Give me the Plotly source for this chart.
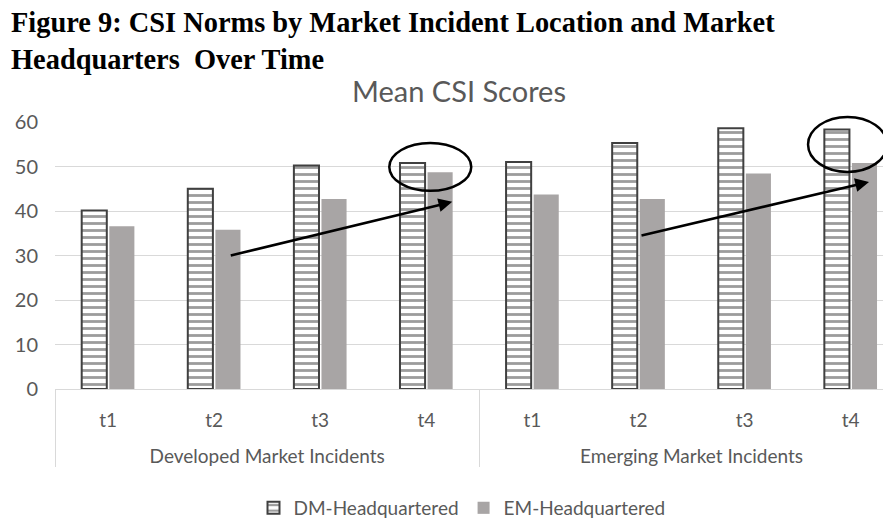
import plotly.graph_objects as go

group_names = ["Developed Market Incidents", "Emerging Market Incidents"]
periods = ["t1", "t2", "t3", "t4"] * 2
dm_hq = [40.1, 45.0, 50.2, 50.8, 51.0, 55.3, 58.6, 58.3]
em_hq = [36.6, 35.8, 42.7, 48.7, 43.7, 42.7, 48.4, 50.8]
series_names = ["DM-Headquartered", "EM-Headquartered"]

# group labels carry a leading line break to push them below the period labels
groups = ["<br>" + group_names[0]] * 4 + ["<br>" + group_names[1]] * 4

OFF = 8  # page body margin of the browser
W, H = 891 - OFF, 521 - OFF
L, R, T, B = 54.5 - OFF, 891 - OFF, 122 - OFF, 389.5 - OFF


def px_x(x):
    return (x - OFF - L) / (R - L)


def px_y(y):
    return (B - (y - OFF)) / (B - T)


fig = go.Figure()
fig.add_trace(go.Bar(
    x=[groups, periods], y=dm_hq, name=series_names[0],
    marker=dict(color="white", line=dict(color="#404040", width=2),
                pattern=dict(shape="-", fgcolor="#3a3a3a", bgcolor="white",
                             size=7, solidity=0.4)),
))
fig.add_trace(go.Bar(
    x=[groups, periods], y=em_hq, name=series_names[1],
    marker=dict(color="#A8A5A5", line=dict(width=0)),
))

gray = "#595959"
fig.update_layout(
    width=W, height=H,
    margin=dict(l=L, r=W - R, t=T, b=H - B, autoexpand=False),
    paper_bgcolor="white", plot_bgcolor="white",
    font=dict(family="Lato", color=gray, size=19),
    barmode="group", bargap=0.48, bargroupgap=0.09,
    showlegend=True,
    legend=dict(orientation="h", x=(462 - OFF) / W, xref="container", xanchor="center",
                y=1 - (508 - OFF) / H, yref="container", yanchor="middle",
                font=dict(size=19, color=gray), itemwidth=30),
    title=dict(text="Mean CSI Scores", x=(459 - OFF) / W, xanchor="center",
               y=1 - (92 - OFF) / H, yanchor="middle",
               font=dict(size=29, color=gray, family="Lato")),
)
fig.update_yaxes(range=[0, 60], dtick=10, showgrid=True, gridcolor="#D9D9D9",
                 gridwidth=1, zeroline=False, showline=False, automargin=False,
                 tickfont=dict(size=20, color=gray), ticks="", ticklabelstandoff=16)
fig.update_xaxes(type="multicategory", range=[-0.5, 7.38], showline=True,
                 linecolor="#D9D9D9", linewidth=1, showdividers=True,
                 dividercolor="#D9D9D9", dividerwidth=1, ticks="", automargin=False,
                 tickfont=dict(size=19, color=gray), ticklabelstandoff=14)

# figure caption
fig.add_annotation(text="<b>Figure 9: CSI Norms by Market Incident Location and Market</b>",
                   xref="paper", yref="paper", x=px_x(8), y=px_y(22),
                   xanchor="left", yanchor="middle", showarrow=False,
                   font=dict(family="Liberation Serif", size=28.4, color="black"))
fig.add_annotation(text="<b>Headquarters  Over Time</b>",
                   xref="paper", yref="paper", x=px_x(8), y=px_y(59),
                   xanchor="left", yanchor="middle", showarrow=False,
                   font=dict(family="Liberation Serif", size=28.4, color="black"))

# ellipses
for (x0, y0, x1, y1) in [(389, 143, 471, 191), (808, 117, 887, 172)]:
    fig.add_shape(type="circle", xref="paper", yref="paper",
                  x0=px_x(x0), x1=px_x(x1), y0=px_y(y1), y1=px_y(y0),
                  line=dict(color="black", width=2.5))

# arrows
for (tx, ty, hx, hy) in [(229, 256, 452, 202), (640, 236, 869, 182)]:
    fig.add_annotation(xref="paper", yref="paper", x=px_x(hx), y=px_y(hy),
                       ax=tx - hx, ay=ty - hy, axref="pixel", ayref="pixel",
                       showarrow=True, arrowhead=2, arrowsize=1.1, arrowwidth=2.5,
                       arrowcolor="black", text="")

fig.write_html("out.html")
